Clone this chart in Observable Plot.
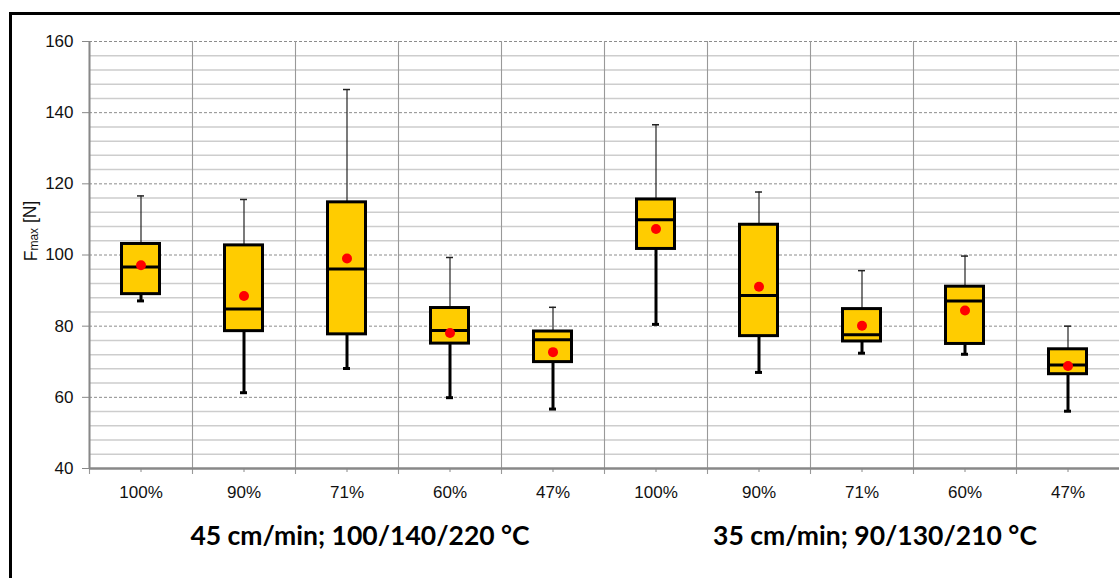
<!DOCTYPE html>
<html><head><meta charset="utf-8">
<script src="https://cdn.jsdelivr.net/npm/d3@7"></script>
<script src="https://cdn.jsdelivr.net/npm/@observablehq/plot@0.6"></script>
<style>
html,body{margin:0;padding:0;background:#fff;width:1120px;height:578px;overflow:hidden;}
#frame{position:absolute;left:9px;top:12px;width:1200px;height:700px;border:3px solid #000;box-sizing:border-box;pointer-events:none;}
#chart{position:absolute;left:0;top:0;}
</style></head><body>
<div id="chart"></div><div id="frame"></div>
<script>
const groups = ["45 cm/min; 100/140/220 °C", "35 cm/min; 90/130/210 °C"];
const levels = ["100%", "90%", "71%", "60%", "47%"];
// box statistics, in order: group 1 (100%..47%), group 2 (100%..47%)
const whiskerMax = [116.6, 115.6, 146.5, 99.3, 85.3, 136.6, 117.7, 95.6, 99.7, 80.0];
const q3Values   = [103.1, 102.7, 114.8, 85.1, 78.5, 115.6, 108.5, 84.8, 91.1, 73.5];
const medians    = [96.6, 84.8, 96.1, 78.8, 76.2, 109.9, 88.6, 77.6, 87.1, 69.1];
const means      = [97.1, 88.5, 99.0, 78.1, 72.7, 107.3, 91.1, 80.1, 84.4, 68.8];
const q1Values   = [89.0, 78.6, 77.7, 75.1, 69.9, 101.7, 77.2, 75.7, 75.0, 66.5];
const whiskerMin = [87.1, 61.3, 68.1, 59.9, 56.7, 80.5, 67.0, 72.4, 72.1, 56.1];
const majorTicks = [40, 60, 80, 100, 120, 140, 160];
const minorTicks = [44, 48, 52, 56, 64, 68, 72, 76, 84, 88, 92, 96, 104, 108, 112, 116, 124, 128, 132, 136, 144, 148, 152, 156];

const keys = [];
groups.forEach((g, gi) => levels.forEach(l => keys.push(gi + "|" + l)));
const data = keys.map((k, i) => ({
  key: k, max: whiskerMax[i], q3: q3Values[i], median: medians[i],
  mean: means[i], q1: q1Values[i], min: whiskerMin[i]
}));
const groupLabels = groups.map((g, gi) => ({label: g, key: gi + "|71%"}));

const W = 1120, H = 578, mL = 89, mR = 1;
const bw = (W - mL - mR) / keys.length;
const boxW = 38;
const boxInset = (bw - boxW) / 2;
const capInset = (bw - 7) / 2;

const plot = Plot.plot({
  width: W, height: H,
  marginLeft: mL, marginRight: mR, marginTop: 41, marginBottom: 110,
  style: {fontFamily: "'Liberation Sans', Arial, sans-serif", background: "transparent", overflow: "visible", color: "#111"},
  x: {type: "band", domain: keys, padding: 0, label: null},
  y: {domain: [40, 160], label: null},
  marks: [
    Plot.gridY(minorTicks, {stroke: "#cdcdcd", strokeOpacity: 1, strokeWidth: 1.5}),
    Plot.gridY(majorTicks.filter(d => d > 40), {stroke: "#8c8c8c", strokeOpacity: 1, strokeDasharray: "3,2"}),
    Plot.ruleX(keys, {x: d => d, dx: -bw / 2, stroke: "#999", strokeWidth: 1.1, insetBottom: -6}),
    Plot.ruleX([keys[0]], {x: d => d, dx: -bw / 2, stroke: "#888", strokeWidth: 2}),
    Plot.ruleY([40], {stroke: "#888", strokeWidth: 2.5}),
    Plot.axisY({ticks: majorTicks, tickSize: 7, tickPadding: 9, fontSize: 17, stroke: "#888", fill: "#111"}),
    Plot.axisX({tickSize: 4, tickPadding: 13, fontSize: 17, stroke: "#888", fill: "#111",
      tickFormat: d => d.split("|")[1]}),
    // upper whiskers
    Plot.ruleX(data, {x: "key", y1: "q3", y2: "max", stroke: "#222", strokeWidth: 1.2}),
    Plot.tickY(data, {x: "key", y: "max", stroke: "#222", strokeWidth: 1.5, insetLeft: capInset, insetRight: capInset}),
    // lower whiskers
    Plot.ruleX(data, {x: "key", y1: "min", y2: "q1", stroke: "#000", strokeWidth: 3}),
    Plot.tickY(data, {x: "key", y: "min", stroke: "#000", strokeWidth: 3, insetLeft: capInset, insetRight: capInset}),
    // boxes
    Plot.barY(data, {x: "key", y1: "q1", y2: "q3", fill: "#FFCC00", stroke: "#000", strokeWidth: 3, insetLeft: boxInset, insetRight: boxInset}),
    Plot.tickY(data, {x: "key", y: "median", stroke: "#000", strokeWidth: 3, insetLeft: boxInset, insetRight: boxInset}),
    Plot.dot(data, {x: "key", y: "mean", fill: "#FF0000", r: 5, stroke: null}),
    // group labels
    Plot.text(groupLabels, {x: "key", text: "label", frameAnchor: "bottom", dy: 76, dx: 13,
      fontSize: 26.5, fontWeight: "bold", fill: "#000", fontFamily: "Lato, 'Open Sans', sans-serif"})
  ]
});

const svg = d3.select(plot);
const t = svg.append("text")
  .attr("transform", "translate(36.5,231) rotate(-90)")
  .attr("text-anchor", "middle")
  .attr("font-family", "'Liberation Sans', Arial, sans-serif")
  .attr("font-size", 17.5)
  .attr("fill", "#111");
t.append("tspan").text("F");
t.append("tspan").attr("font-size", 12).attr("dy", "0.1em").text("max");
t.append("tspan").attr("dy", "-0.1em").text(" [N]");

document.getElementById("chart").appendChild(plot);
</script>
</body></html>
